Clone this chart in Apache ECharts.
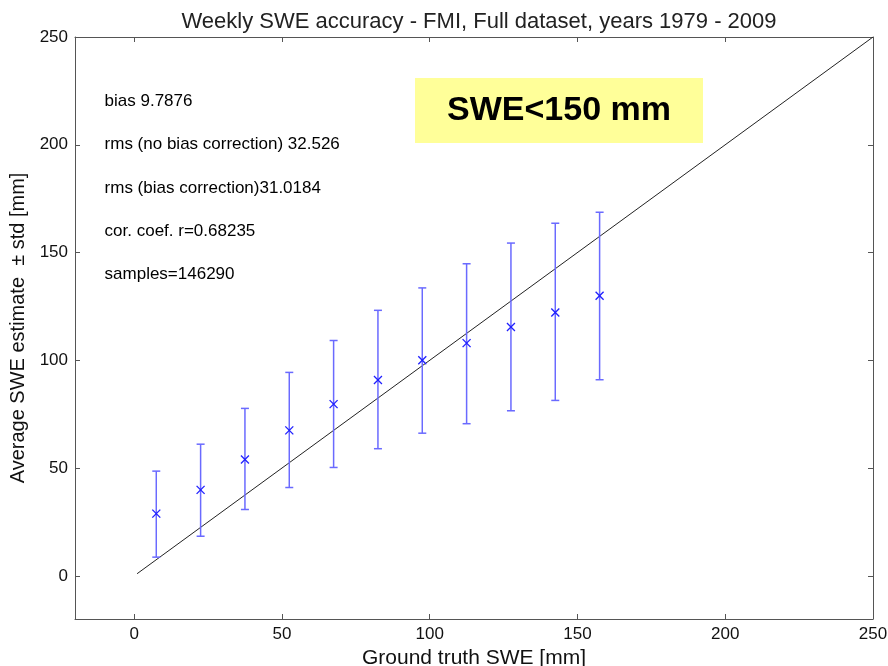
<!DOCTYPE html>
<html lang="en">
<head>
    <meta charset="UTF-8">
    <title>Weekly SWE accuracy</title>
    <script src="https://cdn.jsdelivr.net/npm/echarts@6/dist/echarts.min.js"></script>
    <style>
        html, body { margin: 0; padding: 0; background: #fff; }
        #container { width: 888px; height: 666px; }
    </style>
</head>
<body>
<div id="container"></div>
<script>
    // ground truth bin centres [mm]
    var truth = [7.5, 22.5, 37.5, 52.5, 67.5, 82.5, 97.5, 112.5, 127.5, 142.5, 157.5];
    // average SWE estimate per bin [mm]
    var estimate = [28.9, 39.9, 54.0, 67.5, 79.7, 90.9, 100.0, 108.0, 115.5, 122.2, 130.0];
    // estimate + std / estimate - std
    var upper = [48.6, 61.1, 77.7, 94.4, 109.2, 123.2, 133.6, 144.8, 154.4, 163.6, 168.7];
    var lower = [8.7, 18.4, 30.8, 41.0, 50.3, 59.0, 66.2, 70.6, 76.6, 81.4, 91.0];
    // 1:1 line
    var oneToOne = [[1, 1], [250, 250]];
    var ticks = [0, 50, 100, 150, 200, 250];
    var stats = [
        'bias 9.7876',
        'rms (no bias correction) 32.526',
        'rms (bias correction)31.0184',
        'cor. coef. r=0.68235',
        'samples=146290'
    ];
    var statsY = [220, 200, 180, 160, 140];

    var barData = [];
    for (var i = 0; i < truth.length; i++) {
        barData.push([truth[i], lower[i], upper[i], estimate[i]]);
    }
    var statsData = [];
    for (var j = 0; j < stats.length; j++) {
        statsData.push({value: [-10, statsY[j]], name: stats[j]});
    }

    var font = '"Liberation Sans", Arial, sans-serif';
    var axisCommon = {
        type: 'value',
        min: -20,
        max: 250,
        splitLine: {show: false},
        axisLine: {show: true, onZero: false, lineStyle: {color: '#555', width: 1}},
        axisTick: {show: true, inside: true, length: 5, customValues: ticks, lineStyle: {color: '#555'}},
        axisLabel: {customValues: ticks, color: '#111', fontSize: 17, margin: 7, fontFamily: font}
    };

    function axis(extra) {
        var a = JSON.parse(JSON.stringify(axisCommon));
        for (var k in extra) {
            if (typeof extra[k] === 'object' && a[k]) {
                for (var kk in extra[k]) a[k][kk] = extra[k][kk];
            } else {
                a[k] = extra[k];
            }
        }
        return a;
    }

    function renderBar(params, api) {
        var x = api.value(0);
        var lo = api.coord([x, api.value(1)]);
        var hi = api.coord([x, api.value(2)]);
        var m = api.coord([x, api.value(3)]);
        var cap = 4, mk = 4;
        var barStyle = {stroke: '#6a6aff', lineWidth: 1.5};
        var mkStyle = {stroke: '#1f1fff', lineWidth: 1.3};
        return {
            type: 'group',
            children: [
                {type: 'line', shape: {x1: hi[0], y1: hi[1], x2: lo[0], y2: lo[1]}, style: barStyle},
                {type: 'line', shape: {x1: hi[0] - cap, y1: hi[1], x2: hi[0] + cap, y2: hi[1]}, style: barStyle},
                {type: 'line', shape: {x1: lo[0] - cap, y1: lo[1], x2: lo[0] + cap, y2: lo[1]}, style: barStyle},
                {type: 'line', shape: {x1: m[0] - mk, y1: m[1] - mk, x2: m[0] + mk, y2: m[1] + mk}, style: mkStyle},
                {type: 'line', shape: {x1: m[0] - mk, y1: m[1] + mk, x2: m[0] + mk, y2: m[1] - mk}, style: mkStyle}
            ]
        };
    }

    var options = {
        backgroundColor: '#fff',
        animation: false,
        title: {
            text: 'Weekly SWE accuracy - FMI, Full dataset, years 1979 - 2009',
            left: 474,
            textAlign: 'center',
            top: 6,
            textStyle: {fontSize: 22, fontWeight: 'normal', color: '#222', fontFamily: font}
        },
        grid: {left: 75, right: 15, top: 37, bottom: 47, containLabel: false, outerBoundsMode: 'none'},
        xAxis: [
            axis({
                position: 'bottom',
                name: 'Ground truth SWE [mm]',
                nameLocation: 'middle',
                nameGap: 23,
                nameTextStyle: {fontSize: 21, color: '#111', fontFamily: font}
            }),
            axis({position: 'top', axisLabel: {show: false}})
        ],
        yAxis: [
            axis({
                position: 'left',
                name: 'Average SWE estimate  \u00b1 std [mm]',
                nameLocation: 'middle',
                nameGap: 36,
                nameRotate: 90,
                nameTextStyle: {fontSize: 20, color: '#111', fontFamily: font}
            }),
            axis({position: 'right', axisLabel: {show: false}})
        ],
        graphic: [
            {
                type: 'rect',
                shape: {x: 415, y: 78, width: 288, height: 65},
                style: {fill: '#ffff99'},
                z: 5
            },
            {
                type: 'text',
                x: 559,
                y: 111,
                style: {
                    text: 'SWE<150 mm',
                    fill: '#000',
                    font: 'bold 34px ' + font,
                    textAlign: 'center',
                    textVerticalAlign: 'middle'
                },
                z: 6
            }
        ],
        series: [
            {
                type: 'line',
                data: oneToOne,
                symbol: 'none',
                lineStyle: {color: '#222', width: 1},
                z: 2
            },
            {
                type: 'custom',
                data: barData,
                renderItem: renderBar,
                encode: {x: 0, y: [1, 2, 3]},
                z: 3
            },
            {
                type: 'scatter',
                data: statsData,
                symbolSize: 0,
                silent: true,
                itemStyle: {opacity: 1},
                label: {
                    show: true,
                    position: 'right',
                    distance: 0,
                    offset: [0, 1.5],
                    formatter: '{b}',
                    color: '#000',
                    opacity: 1,
                    fontSize: 17,
                    fontFamily: font
                },
                labelLayout: {hideOverlap: false}
            }
        ]
    };

    var myChart = echarts.init(document.getElementById('container'));
    myChart.setOption(options);
</script>
</body>
</html>
